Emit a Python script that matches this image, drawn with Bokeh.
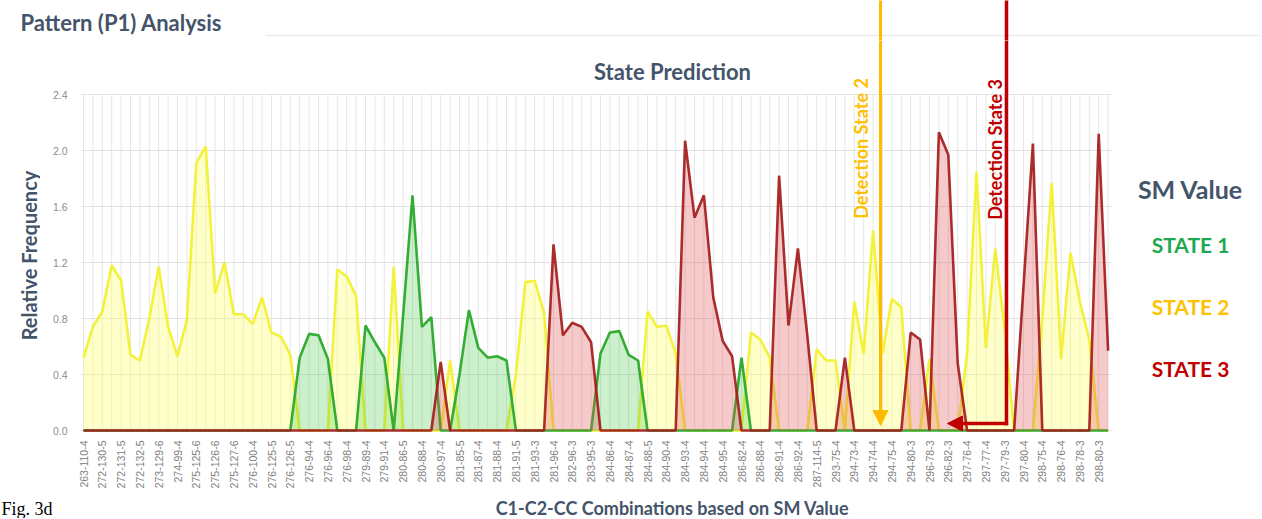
from math import pi
from bokeh.plotting import figure
from bokeh.models import FixedTicker, Label, Arrow, NormalHead, Range1d
from bokeh.layouts import column, row
from bokeh.embed import file_html
from bokeh.resources import INLINE

# ---------------- data ----------------
tick_labels = [
    "263-110-4", "272-130-5", "272-131-5", "272-132-5", "273-129-6", "274-99-4",
    "275-125-6", "275-126-6", "275-127-6", "276-100-4", "276-125-5", "276-126-5",
    "276-94-4", "276-96-4", "276-98-4", "279-89-4", "279-91-4", "280-86-5",
    "280-88-4", "280-97-4", "281-85-5", "281-87-4", "281-88-4", "281-91-5",
    "281-93-3", "281-96-4", "282-96-3", "283-95-3", "284-86-4", "284-87-4",
    "284-88-5", "284-90-4", "284-93-4", "284-94-4", "284-95-4", "286-82-4",
    "286-88-4", "286-91-4", "286-92-4", "287-114-5", "293-75-4", "294-73-4",
    "294-74-4", "294-75-4", "294-80-3", "296-78-3", "296-82-3", "297-76-4",
    "297-77-4", "297-79-3", "297-80-4", "298-75-4", "298-76-4", "298-78-3",
    "298-80-3",
]

# STATE 2 (yellow)
state2 = [
    0.52, 0.74, 0.85, 1.18, 1.07, 0.54, 0.50, 0.80, 1.17, 0.74,
    0.53, 0.79, 1.91, 2.03, 0.98, 1.20, 0.83, 0.83, 0.76, 0.95,
    0.70, 0.67, 0.54, 0.00, 0.00, 0.00, 0.00, 1.15, 1.10, 0.96,
    0.00, 0.00, 0.00, 1.17, 0.00, 0.00, 0.00, 0.00, 0.00, 0.50,
    0.00, 0.00, 0.00, 0.00, 0.00, 0.00, 0.40, 1.06, 1.07, 0.84,
    0.00, 0.00, 0.00, 0.00, 0.00, 0.00, 0.00, 0.00, 0.00, 0.00,
    0.85, 0.74, 0.75, 0.55, 0.00, 0.00, 0.00, 0.00, 0.00, 0.00,
    0.00, 0.70, 0.65, 0.52, 0.00, 0.00, 0.00, 0.00, 0.58, 0.50,
    0.50, 0.00, 0.92, 0.55, 1.43, 0.55, 0.94, 0.88, 0.00, 0.00,
    0.51, 0.00, 0.00, 0.00, 0.55, 1.85, 0.59, 1.30, 0.72, 0.00,
    0.00, 0.00, 0.80, 1.77, 0.51, 1.27, 0.92, 0.65, 0.00, 0.00,
]

# STATE 1 (green)
state1 = [
    0.00, 0.00, 0.00, 0.00, 0.00, 0.00, 0.00, 0.00, 0.00, 0.00,
    0.00, 0.00, 0.00, 0.00, 0.00, 0.00, 0.00, 0.00, 0.00, 0.00,
    0.00, 0.00, 0.00, 0.52, 0.69, 0.68, 0.51, 0.00, 0.00, 0.00,
    0.75, 0.63, 0.52, 0.00, 0.82, 1.68, 0.74, 0.81, 0.00, 0.00,
    0.40, 0.86, 0.59, 0.52, 0.53, 0.50, 0.00, 0.00, 0.00, 0.00,
    0.00, 0.00, 0.00, 0.00, 0.00, 0.55, 0.70, 0.71, 0.54, 0.50,
    0.00, 0.00, 0.00, 0.00, 0.00, 0.00, 0.00, 0.00, 0.00, 0.00,
    0.52, 0.00, 0.00, 0.00, 0.00, 0.00, 0.00, 0.00, 0.00, 0.00,
    0.00, 0.00, 0.00, 0.00, 0.00, 0.00, 0.00, 0.00, 0.00, 0.00,
    0.00, 0.00, 0.00, 0.00, 0.00, 0.00, 0.00, 0.00, 0.00, 0.00,
    0.00, 0.00, 0.00, 0.00, 0.00, 0.00, 0.00, 0.00, 0.00, 0.00,
]

# STATE 3 (red)
state3 = [
    0.00, 0.00, 0.00, 0.00, 0.00, 0.00, 0.00, 0.00, 0.00, 0.00,
    0.00, 0.00, 0.00, 0.00, 0.00, 0.00, 0.00, 0.00, 0.00, 0.00,
    0.00, 0.00, 0.00, 0.00, 0.00, 0.00, 0.00, 0.00, 0.00, 0.00,
    0.00, 0.00, 0.00, 0.00, 0.00, 0.00, 0.00, 0.00, 0.49, 0.00,
    0.00, 0.00, 0.00, 0.00, 0.00, 0.00, 0.00, 0.00, 0.00, 0.00,
    1.33, 0.68, 0.77, 0.74, 0.63, 0.00, 0.00, 0.00, 0.00, 0.00,
    0.00, 0.00, 0.00, 0.00, 2.07, 1.52, 1.68, 0.95, 0.64, 0.53,
    0.00, 0.00, 0.00, 0.00, 1.82, 0.75, 1.30, 0.68, 0.00, 0.00,
    0.00, 0.52, 0.00, 0.00, 0.00, 0.00, 0.00, 0.00, 0.70, 0.65,
    0.00, 2.13, 1.97, 0.48, 0.00, 0.00, 0.00, 0.00, 0.00, 0.00,
    1.03, 2.05, 0.00, 0.00, 0.00, 0.00, 0.00, 0.00, 2.12, 0.57,
]

y_ticks = [0.0, 0.4, 0.8, 1.2, 1.6, 2.0, 2.4]
y_tick_labels = ["0.0", "0.4", "0.8", "1.2", "1.6", "2.0", "2.4"]

# ---------------- geometry (page pixels) ----------------
W = 1260          # total width
TOP_H = 40        # title strip
MID_H = 455       # main plot row
BOT_H = 23        # bottom strip
LEFT_W = 40       # strip holding the y-axis title
FRAME_L = 80      # page x of plot frame left edge
FRAME_B = 433     # page y of plot frame bottom edge

n = len(state2)
idx = list(range(n))
PX = 9.4          # px per category
X0 = 83.0         # page x of first category
Y0 = 430.0        # page y of value 0
PY = 140.0        # px per unit


def dx(xr):
    return (xr - X0) / PX


def dy(yr):
    return (Y0 - yr) / PY


SLATE = "#44546A"
FONT = "Lato"
ORANGE = "#ffbb00"
RED = "#c00000"


def strip(w, h, x0, x1, yb, yt, border_bottom=0):
    f = figure(width=w, height=h, x_range=Range1d(x0, x1), y_range=Range1d(yb, yt),
               output_backend="svg", toolbar_location=None, min_border=0,
               min_border_bottom=border_bottom,
               x_axis_location=None, y_axis_location=None)
    f.grid.visible = False
    f.outline_line_color = None
    f.background_fill_color = "white"
    f.border_fill_color = "white"
    return f


def add_label(fig, text, x, y, size, color, align="center", baseline="middle",
              angle=0.0, font=FONT, style="bold"):
    fig.add_layout(Label(x=x, y=y, text=text, text_font=font,
                         text_font_size=size, text_font_style=style,
                         text_color=color, text_align=align,
                         text_baseline=baseline, angle=angle))


# ---------------- main plot ----------------
main_w = W - LEFT_W
frame_w = main_w - (FRAME_L - LEFT_W)
frame_h = FRAME_B - TOP_H
x_lo = dx(FRAME_L)
x_hi = x_lo + frame_w / PX
y_lo = dy(FRAME_B)
y_hi = dy(TOP_H)

p = figure(
    width=main_w, height=MID_H,
    x_range=Range1d(x_lo, x_hi), y_range=Range1d(y_lo, y_hi),
    output_backend="svg", toolbar_location=None,
    min_border_left=FRAME_L - LEFT_W, min_border_right=0,
    min_border_top=0, min_border_bottom=MID_H - frame_h,
)
p.outline_line_color = None
p.background_fill_color = "white"
p.border_fill_color = "white"

p.xaxis.ticker = FixedTicker(ticks=list(range(0, n, 2)))
p.xaxis.major_label_overrides = {i: tick_labels[i // 2] for i in range(0, n, 2)}
p.xaxis.major_label_orientation = pi / 2
p.xaxis.major_label_text_font_size = "10.5px"
p.xaxis.major_label_text_color = "#808080"
p.xaxis.major_label_text_font = "Liberation Sans"
p.xaxis.major_label_standoff = 7
p.xaxis.axis_line_color = None
p.xaxis.major_tick_line_color = None
p.xaxis.minor_tick_line_color = None
p.xaxis.major_tick_out = 0
p.xaxis.minor_tick_out = 0

p.yaxis.ticker = FixedTicker(ticks=y_ticks)
p.yaxis.major_label_overrides = {t: s for t, s in zip(y_ticks, y_tick_labels)}
p.yaxis.major_label_text_font_size = "10.5px"
p.yaxis.major_label_text_color = "#8c8c8c"
p.yaxis.major_label_text_font = "Liberation Sans"
p.yaxis.major_label_standoff = 13
p.yaxis.axis_line_color = None
p.yaxis.major_tick_line_color = None
p.yaxis.minor_tick_line_color = None
p.yaxis.major_tick_out = 0
p.yaxis.minor_tick_out = 0

p.grid.visible = False

# grid lines limited to the data area
cat_lo = idx[0] - 0.32
cat_hi = idx[-1] + 0.36
p.segment(x0=[cat_lo] * len(y_ticks), y0=y_ticks, x1=[cat_hi] * len(y_ticks), y1=y_ticks,
          line_color="#e2e2e2", line_width=1)
p.segment(x0=idx, y0=[y_ticks[0]] * n, x1=idx, y1=[y_ticks[-1]] * n,
          line_color="#e6e6e6", line_width=1)

# areas + lines
p.varea(x=idx, y1=0, y2=state2, fill_color="#ffff70", fill_alpha=0.38)
p.line(idx, state2, line_color="#f2f23c", line_width=2.6)

p.varea(x=idx, y1=0, y2=state1, fill_color="#40c840", fill_alpha=0.27)
p.line(idx, state1, line_color="#33ad33", line_width=2.6)

p.varea(x=idx, y1=0, y2=state3, fill_color="#e05050", fill_alpha=0.30)
p.line(idx, state3, line_color="#a41c1c", line_width=2.6, line_alpha=0.92)

add_label(p, "State Prediction", dx(672), dy(71), "22px", SLATE)
add_label(p, "SM Value", dx(1190), dy(188), "25px", SLATE)
add_label(p, "STATE 1", dx(1190), dy(244), "21px", "#1fa84f")
add_label(p, "STATE 2", dx(1190), dy(306), "21px", "#ffc000")
add_label(p, "STATE 3", dx(1190), dy(368), "21px", "#c00000")
add_label(p, "Detection State 2", dx(860), dy(148), "18px", "#ffc000", angle=pi / 2)
add_label(p, "Detection State 3", dx(994), dy(149), "18px", "#c00000", angle=pi / 2)

p.add_layout(Arrow(end=NormalHead(size=15, fill_color=ORANGE, line_color=ORANGE),
                   x_start=dx(880), y_start=dy(TOP_H - 5), x_end=dx(880), y_end=dy(425),
                   line_color=ORANGE, line_width=3))
p.add_layout(Arrow(end=None, start=None,
                   x_start=dx(1006), y_start=dy(TOP_H - 5), x_end=dx(1006), y_end=dy(424.8),
                   line_color=RED, line_width=3.5))
p.add_layout(Arrow(end=NormalHead(size=15, fill_color=RED, line_color=RED),
                   x_start=dx(1007.7), y_start=dy(423), x_end=dx(947), y_end=dy(423),
                   line_color=RED, line_width=3.5))

# ---------------- top strip ----------------
top = strip(W, TOP_H, 0, W, TOP_H, 0)
add_label(top, "Pattern (P1) Analysis", 20, 22, "22px", SLATE, align="left")
top.add_layout(Arrow(end=None, start=None, x_start=265, y_start=35, x_end=W, y_end=35,
                     line_color="#ececec", line_width=1.5))
top.add_layout(Arrow(end=None, start=None, x_start=880, y_start=-2, x_end=880, y_end=TOP_H + 2,
                     line_color=ORANGE, line_width=3))
top.add_layout(Arrow(end=None, start=None, x_start=1006, y_start=-2, x_end=1006, y_end=TOP_H + 2,
                     line_color=RED, line_width=3.5))

# ---------------- left strip (frame matches the main frame) ----------------
left = strip(LEFT_W, MID_H, 0, LEFT_W, FRAME_B, TOP_H, border_bottom=MID_H - frame_h)
add_label(left, "Relative Frequency", 28, 255, "20px", SLATE, angle=pi / 2)

# ---------------- bottom strip ----------------
bot_y0 = TOP_H + MID_H
bottom = strip(W, BOT_H, 0, W, bot_y0 + BOT_H, bot_y0)
add_label(bottom, "C1-C2-CC Combinations based on SM Value", 672, 507, "18px", SLATE)
add_label(bottom, "Fig. 3d", 1, 498, "18px", "#000000", align="left", baseline="top",
          font="Liberation Serif", style="normal")

layout = column(top, row(left, p), bottom)
open("out.html", "w").write(file_html(layout, INLINE))
